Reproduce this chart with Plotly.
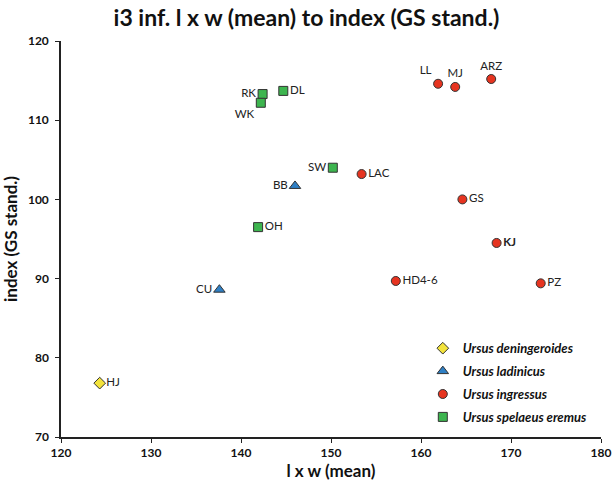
import plotly.graph_objects as go

# Data
den_names = ["HJ"]
den_x = [124.3]
den_y = [76.8]

lad_names = ["CU", "BB"]
lad_x = [137.6, 146.0]
lad_y = [88.6, 101.7]

ing_names = ["LL", "MJ", "ARZ", "LAC", "GS", "<b>KJ</b>", "HD4-6", "PZ"]
ing_x = [161.9, 163.8, 167.8, 153.4, 164.6, 168.4, 157.2, 173.3]
ing_y = [114.6, 114.2, 115.2, 103.2, 100.0, 94.5, 89.7, 89.4]

spe_names = ["RK", "WK", "DL", "SW", "OH"]
spe_x = [142.4, 142.2, 144.7, 150.2, 141.9]
spe_y = [113.3, 112.2, 113.7, 104.0, 96.5]

x_ticks = [120, 130, 140, 150, 160, 170, 180]
y_ticks = [70, 80, 90, 100, 110, 120]

FONT = "Lato"

fig = go.Figure()

def add(name, xs, ys, labels, symbol, color, size, tpos):
    fig.add_trace(go.Scatter(
        x=xs, y=ys, text=labels, mode="markers+text", name=name,
        legendgroup=name,
        textposition=tpos,
        textfont=dict(family=FONT, size=11.5, color="#222"),
        marker=dict(symbol=symbol, color=color, size=size,
                    line=dict(color="#333", width=1)),
    ))

add("<b><i>Ursus deningeroides</i></b>", den_x, den_y, den_names,
    "diamond", "#f3e33c", 9, ["middle right"])
add("<b><i>Ursus ladinicus</i></b>", lad_x, lad_y, lad_names,
    "triangle-up", "#2f7fc4", 10, ["middle left", "middle left"])
add("<b><i>Ursus ingressus</i></b>", ing_x, ing_y, ing_names,
    "circle", "#e63420", 9,
    ["top left", "top center", "top center", "middle right", "middle right",
     "middle right", "middle right", "middle right"])
add("<b><i>Ursus spelaeus eremus</i></b>", spe_x, spe_y, spe_names,
    "square", "#3db54f", 9,
    ["middle left", "bottom left", "middle right", "middle left", "middle right"])

fig.update_layout(
    width=613, height=482,
    paper_bgcolor="white", plot_bgcolor="white",
    margin=dict(l=61, r=12, t=41, b=45),
    title=dict(text="<b>i3 inf. l x w (mean) to index (GS stand.)</b>",
               x=0.5, xanchor="center", y=0.962, yanchor="middle",
               font=dict(family=FONT, size=23, color="#111")),
    font=dict(family=FONT, color="#111"),
    legend=dict(x=0.67, y=0.262, xanchor="left", yanchor="top",
                bgcolor="rgba(0,0,0,0)", font=dict(family=FONT, size=13),
                tracegroupgap=3, itemwidth=30),
    showlegend=True,
)
fig.update_xaxes(
    range=[120, 180], tickvals=x_ticks, ticktext=[f"<b>{t}</b>" for t in x_ticks],
    showgrid=False, zeroline=False, showline=True, linecolor="#222", linewidth=1.5,
    ticks="outside", ticklen=4, tickcolor="#222", automargin=False,
    tickfont=dict(family=FONT, size=12),
    title=dict(text="<b>l x w (mean)</b>", font=dict(family=FONT, size=17), standoff=2),
)
fig.update_yaxes(
    range=[70, 120], tickvals=y_ticks, ticktext=[f"<b>{t}</b>" for t in y_ticks],
    showgrid=False, zeroline=False, showline=True, linecolor="#222", linewidth=1.5,
    ticks="outside", ticklen=4, tickcolor="#222", automargin=False,
    tickfont=dict(family=FONT, size=12), ticklabelstandoff=4,
    title=dict(text="<b>index (GS stand.)</b>", font=dict(family=FONT, size=17), standoff=8),
)

fig.write_html("out.html", config={"displayModeBar": False},
               post_script="document.body.style.margin='0';document.body.style.overflow='hidden';")
